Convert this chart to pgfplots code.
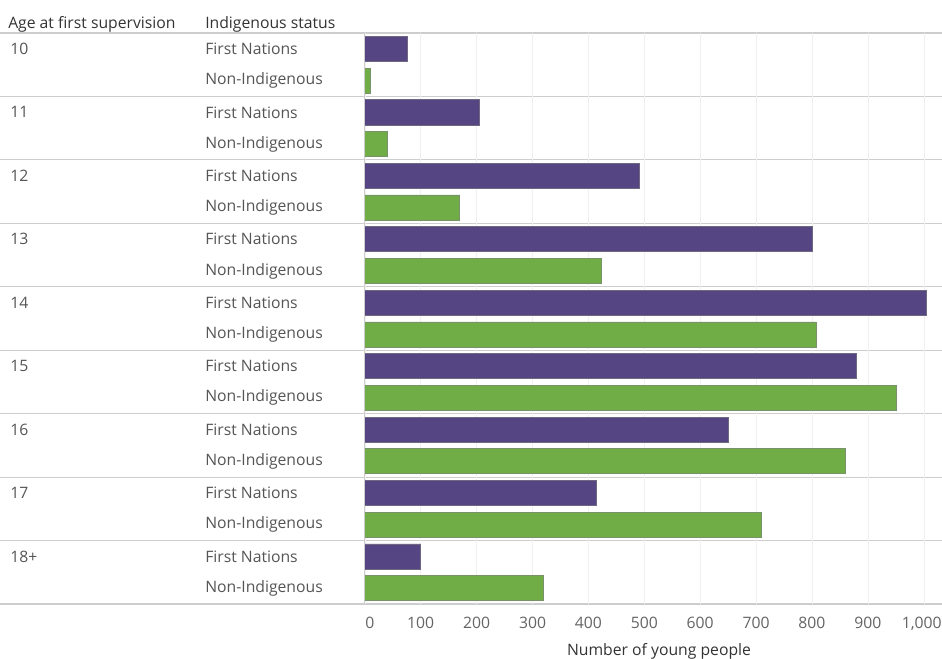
\documentclass[border=0pt]{standalone}
\usepackage{fontspec}
\setmainfont{Open Sans}
\usepackage{pgfplots}
\pgfplotsset{compat=1.18}
\definecolor{fn}{RGB}{85,69,131}
\definecolor{ni}{RGB}{112,173,71}
\definecolor{lab}{RGB}{85,85,85}
\definecolor{tck}{RGB}{100,100,100}
\definecolor{hdr}{RGB}{51,51,51}
\definecolor{sep}{RGB}{205,205,205}
\begin{document}
\begin{tikzpicture}[font=\fontsize{11.8}{13.5}\selectfont]
\useasboundingbox (0,0) rectangle (706.5pt,-493.5pt);
\begin{scope}[x=0.75pt,y=-0.75pt]
\foreach \i in {0,...,9} \draw[sep, line width=0.9pt] (0,{33+\i*63.444}) -- (942,{33+\i*63.444});
\end{scope}
\begin{axis}[at={(273.6pt,-24.75pt)}, anchor=north west, scale only axis,
  width=432.9pt, height=428.25pt,
  xmin=0, xmax=1032.6, ymin=-0.5, ymax=17.5, y dir=reverse,
  axis line style={draw=none}, ytick=\empty,
  xtick={0,100,200,300,400,500,600,700,800,900},
  xticklabels={{\hspace*{7.5pt}0},100,200,300,400,500,600,700,800,900},
  extra x ticks={1000}, extra x tick labels={{1{,}000\hspace*{3pt}}},
  major tick length=0pt,
  xmajorgrids, major grid style={gray!12},
  extra x tick style={grid=major},
  xticklabel style={text=tck, yshift=-6.1pt},
  clip=false]
\addplot[xbar, bar width=0.79, bar shift=0pt, fill=fn, draw=gray!60!fn, line width=0.5pt]
  coordinates {(76,0) (204,2) (492,4) (800,6) (1005,8) (880,10) (650,12) (414,14) (100,16)};
\addplot[xbar, bar width=0.79, bar shift=0pt, fill=ni, draw=gray!60!ni, line width=0.5pt]
  coordinates {(9,1) (40,3) (170,5) (423,7) (807,9) (950,11) (859,13) (709,15) (319,17)};
\end{axis}
\begin{scope}[x=0.75pt,y=-0.75pt]
\draw[sep, line width=0.8pt] (364.8,33) -- (364.8,604);
\node[anchor=base west, inner sep=0, text=hdr] at (8,28) {Age at first supervision};
\node[anchor=base west, inner sep=0, text=hdr] at (205,28) {Indigenous status};
\foreach \a [count=\i from 0] in {10,11,12,13,14,15,16,17,18+} {
  \node[anchor=west, inner sep=0, text=lab] at (10,{33+(2*\i+0.5)*31.722}) {\a};
  \node[anchor=west, inner sep=0, text=lab] at (205,{33+(2*\i+0.5)*31.722}) {First Nations};
  \node[anchor=west, inner sep=0, text=lab] at (205,{33+(2*\i+1.5)*31.722}) {Non-Indigenous};
}
\node[anchor=base, inner sep=0, text=hdr] at (659,655) {Number of young people};
\end{scope}
\end{tikzpicture}
\end{document}
